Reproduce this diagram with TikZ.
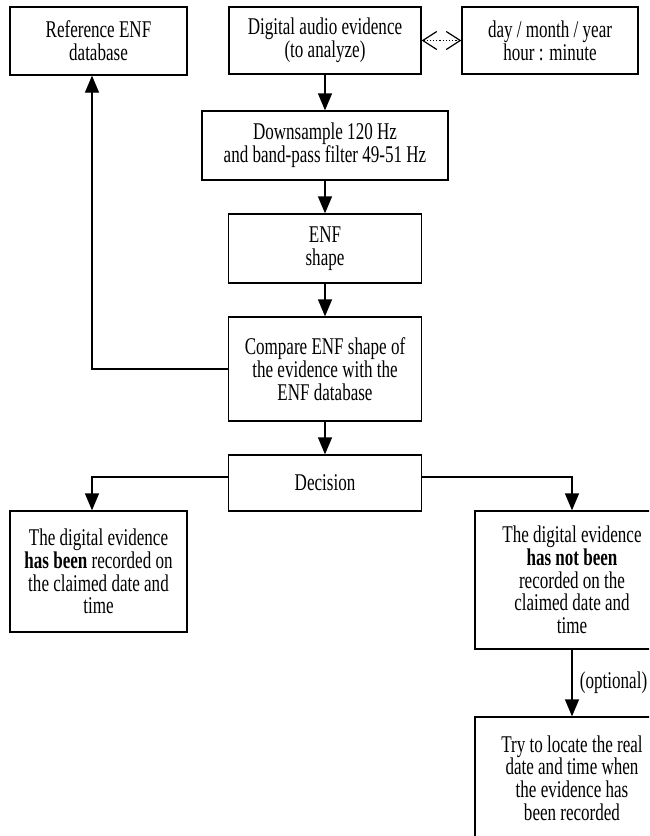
\documentclass[tikz,border=0pt]{standalone}
\usepackage{fontspec}
\setmainfont{Liberation Serif}[FakeStretch=0.71]
\usetikzlibrary{arrows.meta}
\tikzset{
  every node/.style={font=\fontsize{24}{22.7}\selectfont},
  blockbox/.style={draw, line width=1.3pt, inner sep=0pt, align=center},
  flow/.style={-{Triangle[length=17pt,width=14pt]}, line width=1.3pt},
  datelink/.style={{Straight Barb[length=14pt,width=18pt]}-{Straight Barb[length=14pt,width=18pt]}, dotted, line width=1.2pt},
}

\begin{document}
\begin{tikzpicture}[x=1pt,y=-1pt]
  \useasboundingbox (0,0) rectangle (649,836);
  \clip (0,0) rectangle (649,836);
  % top row
  \node[blockbox, minimum width=177pt, minimum height=68pt] (refdb) at (98.5,41) {Reference ENF\\database};
  \node[blockbox, minimum width=192pt, minimum height=67pt] (audio) at (325,40.5) {Digital audio evidence\\(to analyze)};
  \node[blockbox, minimum width=176pt, minimum height=67pt] (datetime) at (550,40.5) {day / month / year\\hour : minute};
  % processing chain
  \node[blockbox, minimum width=246pt, minimum height=69pt] (downsample) at (325,145.5) {Downsample 120 Hz\\and band-pass filter 49-51 Hz};
  \node[blockbox, minimum width=193pt, minimum height=69pt] (enfshape) at (325,248.5) {ENF\\shape};
  \node[blockbox, minimum width=193pt, minimum height=104pt] (compare) at (325,369) {Compare ENF shape of\\the evidence with the\\ENF database};
  \node[blockbox, minimum width=193pt, minimum height=56pt] (decision) at (325,483) {Decision};
  % outcomes
  \node[blockbox, minimum width=177pt, minimum height=121pt] (found) at (98.5,571.5) {The digital evidence\\\textbf{has been} recorded on\\the claimed date and\\time};
  \node[blockbox, minimum width=194pt, minimum height=138pt] (notfound) at (572,580) {The digital evidence\\\textbf{has not been}\\recorded on the\\claimed date and\\time};
  \node[blockbox, minimum width=194pt, minimum height=122pt] (locate) at (572,778) {Try to locate the real\\date and time when\\the evidence has\\been recorded};
  \coordinate (lane) at (92,0);

  \draw[datelink] (audio.east) -- (datetime.west);
  \draw[flow] (audio) -- (downsample);
  \draw[flow] (downsample) -- (enfshape);
  \draw[flow] (enfshape) -- (compare);
  \draw[flow] (compare) -- (decision);
  \draw[flow] (compare.west) -| (lane |- refdb.south);
  \draw[flow] ([yshift=6pt]decision.west) -| (lane |- found.north);
  \draw[flow] ([yshift=6pt]decision.east) -| (notfound.north);
  \draw[flow] (notfound) -- node[right, xshift=4pt] {(optional)} (locate);
\end{tikzpicture}
\end{document}
